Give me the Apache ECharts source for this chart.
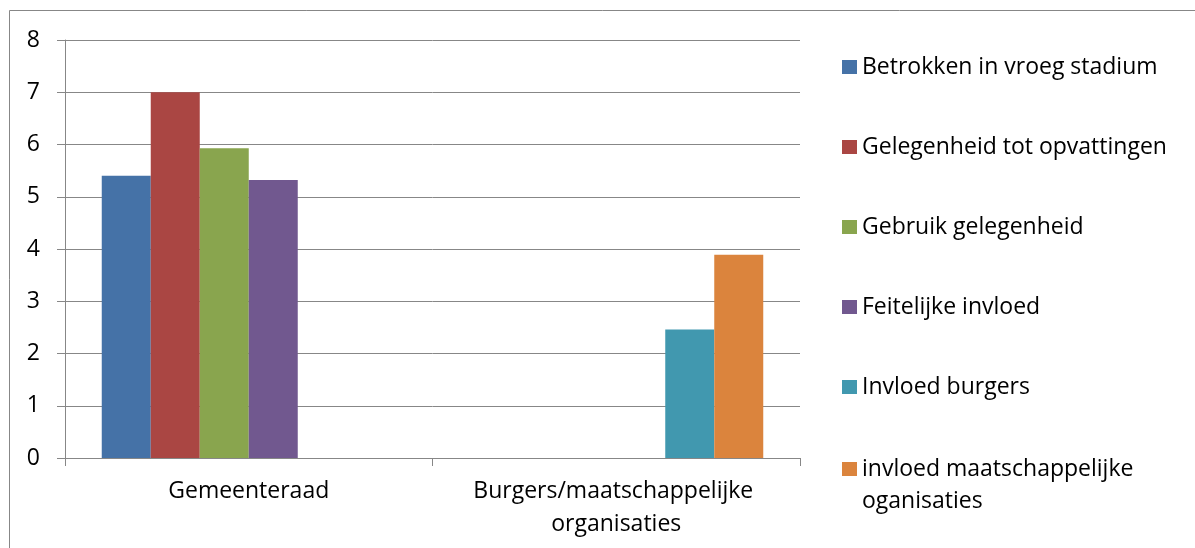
<!DOCTYPE html>
<html>
<head>
<meta charset="utf-8">
<script src="https://cdn.jsdelivr.net/npm/echarts@6/dist/echarts.min.js"></script>
<style>
html,body{margin:0;padding:0;background:#fff;}
#main{width:1195px;height:548px;}
</style>
</head>
<body>
<div id="main"></div>
<script>
var categories = ['Gemeenteraad', 'Burgers/maatschappelijke organisaties'];
var seriesNames = ['Betrokken in vroeg stadium', 'Gelegenheid tot opvattingen', 'Gebruik gelegenheid', 'Feitelijke invloed', 'Invloed burgers', 'invloed maatschappelijke oganisaties'];
var betrokken = [5.40, 0];
var gelegenheid = [7.00, 0];
var gebruik = [5.93, 0];
var feitelijk = [5.32, 0];
var invloedBurgers = [0, 2.46];
var invloedOrganisaties = [0, 3.89];
var yTicks = [0, 1, 2, 3, 4, 5, 6, 7, 8];

var colors = ['#4572A7', '#AA4643', '#89A54E', '#71588F', '#4198AF', '#DB843D'];
var values = [betrokken, gelegenheid, gebruik, feitelijk, invloedBurgers, invloedOrganisaties];
var FONT = '"Open Sans", "Noto Sans", sans-serif';
var FS = 23;
var gridColor = '#878787';

var chart = echarts.init(document.getElementById('main'));
chart.setOption({
  animation: false,
  textStyle: { fontFamily: FONT },
  grid: { left: 65, right: 395, top: 40, bottom: 90, containLabel: false },
  graphic: [{
    type: 'rect', silent: true, z: -10,
    shape: { x: 9.5, y: 10.5, width: 1400, height: 800 },
    style: { fill: 'none', stroke: gridColor, lineWidth: 1 }
  }],
  legend: [{
    orient: 'vertical', left: 842, top: 51, padding: 0, itemGap: 48,
    itemWidth: 15, itemHeight: 14, icon: 'rect', textGap: 8,
    data: seriesNames.slice(0, 5),
    textStyle: { fontFamily: FONT, fontSize: FS, color: '#000', lineHeight: 32 }
  }, {
    orient: 'vertical', left: 842, top: 421, padding: 0,
    itemWidth: 15, itemHeight: 14, icon: 'rect', textGap: 8,
    data: seriesNames.slice(5),
    formatter: function (n) { return ' \n' + n.replace(' oganisaties', '\noganisaties'); },
    textStyle: { fontFamily: FONT, fontSize: FS, color: '#000', lineHeight: 32 }
  }],
  xAxis: {
    type: 'category',
    data: categories,
    axisLine: { lineStyle: { color: gridColor, width: 1 } },
    axisTick: { show: true, length: 8, lineStyle: { color: gridColor } },
    axisLabel: {
      fontFamily: FONT, fontSize: FS, color: '#000', margin: 17, lineHeight: 33,
      width: 340, overflow: 'break', interval: 0
    }
  },
  yAxis: {
    type: 'value', min: yTicks[0], max: yTicks[yTicks.length - 1], interval: 1,
    axisLine: { show: true, lineStyle: { color: gridColor, width: 1 } },
    axisTick: { show: true, length: 8, lineStyle: { color: gridColor } },
    splitLine: { show: true, lineStyle: { color: gridColor, width: 1 } },
    axisLabel: { fontFamily: FONT, fontSize: FS, color: '#000', margin: 25 }
  },
  series: seriesNames.map(function (name, i) {
    return {
      name: name, type: 'bar', data: values[i],
      barGap: '0%', barCategoryGap: '20%',
      itemStyle: { color: colors[i] }
    };
  })
});
</script>
</body>
</html>
